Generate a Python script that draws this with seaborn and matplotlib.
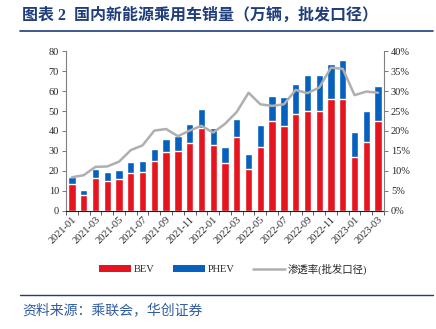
import numpy as np
import pandas as pd
import seaborn as sns
import matplotlib.pyplot as plt
from matplotlib.patches import Patch
from matplotlib.lines import Line2D

# Monthly NEV passenger car wholesale volumes (10k units) and penetration (%)
months = ["2021-01", "2021-02", "2021-03", "2021-04", "2021-05", "2021-06",
          "2021-07", "2021-08", "2021-09", "2021-10", "2021-11", "2021-12",
          "2022-01", "2022-02", "2022-03", "2022-04", "2022-05", "2022-06",
          "2022-07", "2022-08", "2022-09", "2022-10", "2022-11", "2022-12",
          "2023-01", "2023-02", "2023-03"]
bev = [13.6, 7.9, 16.6, 14.8, 16.1, 19.0, 19.5, 24.7, 29.6, 30.0, 34.1, 41.6,
       33.0, 24.1, 36.8, 21.0, 31.9, 44.9, 42.5, 48.7, 50.2, 50.2, 56.1, 56.1,
       26.8, 34.3, 45.0]
phev = [3.5, 2.7, 4.2, 4.4, 4.3, 5.2, 5.6, 6.3, 6.5, 7.6, 9.4, 9.4,
        8.7, 8.0, 9.3, 7.6, 10.9, 12.8, 14.4, 15.1, 17.9, 17.9, 17.4, 19.5,
        12.5, 15.9, 17.4]
penetration = [8.4, 8.9, 11.0, 11.1, 12.3, 15.2, 16.4, 20.1, 20.5, 18.7, 20.1, 21.3,
               19.6, 21.8, 24.8, 29.6, 26.7, 26.3, 26.7, 30.3, 29.5, 30.9, 35.9, 35.6,
               29.0, 29.9, 29.6]
left_ticks = [0, 10, 20, 30, 40, 50, 60, 70, 80]
right_ticks = [0, 5, 10, 15, 20, 25, 30, 35, 40]

RED = "#E5141E"
BLUE = "#0661BE"
GREY = "#AFAFAF"
NAVY = "#1F3D7A"

sns.set_theme(style="white")
plt.rcParams["font.family"] = ["Liberation Serif", "Noto Sans CJK SC"]
plt.rcParams["axes.unicode_minus"] = False

df = pd.DataFrame({"month": months, "BEV": bev, "PHEV": phev,
                   "pen": penetration})
df["total"] = df["BEV"] + df["PHEV"]
df["pos"] = np.arange(len(df))

fig = plt.figure(figsize=(4.36, 3.29), dpi=100)
ax = fig.add_axes([66 / 436, 1 - 210.7 / 329, (384 - 66) / 436, (210.7 - 51.3) / 329])

# Stacked bars: total (PHEV on top) then BEV over it
sns.barplot(data=df, x="month", y="total", color=BLUE, saturation=1,
            width=0.62, errorbar=None, ax=ax)
sns.barplot(data=df, x="month", y="BEV", color=RED, saturation=1,
            width=0.62, errorbar=None, ax=ax)

ax.set_xlim(-0.5, len(df) - 0.5)
ax.set_ylim(0, 80)
ax.set_yticks(left_ticks)
ax.set_yticklabels([str(v) for v in left_ticks], fontsize=7.5)
ax.set_xlabel("")
ax.set_ylabel("")
ax.set_xticks(df["pos"])
ax.set_xticklabels([m if i % 2 == 0 else "" for i, m in enumerate(months)],
                   rotation=45, ha="right", rotation_mode="anchor", fontsize=7.5)
ax.set_xticks(np.arange(-0.5, len(df)), minor=True)
ax.tick_params(axis="x", which="major", bottom=True, length=0, pad=3)
ax.tick_params(axis="x", which="minor", bottom=True, length=3, width=0.6,
               color="#404040")
ax.tick_params(axis="y", left=True, length=3, width=0.6, color="#606060", pad=2)
for s in ["top", "right"]:
    ax.spines[s].set_visible(False)
ax.spines["left"].set_color("#808080")
ax.spines["left"].set_linewidth(0.8)
ax.spines["bottom"].set_color("#202020")
ax.spines["bottom"].set_linewidth(0.8)

# Penetration line on the secondary axis
ax2 = ax.twinx()
sns.lineplot(data=df, x="pos", y="pen", color=GREY, linewidth=1.8, ax=ax2)
ax2.set_ylim(0, 40)
ax2.set_xlim(-0.5, len(df) - 0.5)
ax2.set_yticks(right_ticks)
ax2.set_yticklabels([f"{v}%" for v in right_ticks], fontsize=7.5)
ax2.set_ylabel("")
ax2.set_xlabel("")
ax2.tick_params(axis="y", right=True, length=3, width=0.6, color="#606060", pad=2)
for s in ["top", "left", "bottom"]:
    ax2.spines[s].set_visible(False)
ax2.spines["right"].set_color("#808080")
ax2.spines["right"].set_linewidth(0.8)

# Legend
handles = [Patch(facecolor=RED, edgecolor="none"),
           Patch(facecolor=BLUE, edgecolor="none"),
           Line2D([0], [0], color=GREY, linewidth=1.8)]
fig.legend(handles, ["BEV", "PHEV", "渗透率(批发口径)"], loc="center",
           bbox_to_anchor=(0.535, 1 - 269 / 329), ncol=3, frameon=False,
           fontsize=7.5, handlelength=3.0, handleheight=0.6,
           columnspacing=1.8, handletextpad=0.3)

# Header and footer
fig.text(22 / 436, 1 - 16 / 329, "图表 2  国内新能源乘用车销量（万辆，批发口径）",
         fontsize=11.5, fontweight="bold", color=NAVY, va="center", ha="left",
         family=["Liberation Serif", "Noto Sans CJK SC"])
fig.add_artist(Line2D([20 / 436, 433 / 436], [1 - 30.5 / 329] * 2,
                      transform=fig.transFigure, color=NAVY, linewidth=1.2))
fig.add_artist(Line2D([20 / 436, 433 / 436], [1 - 294.5 / 329] * 2,
                      transform=fig.transFigure, color=NAVY, linewidth=1.0))
fig.text(22 / 436, 1 - 310 / 329, "资料来源：乘联会，华创证券",
         fontsize=10, color="#2F5C9E", va="center", ha="left", style="italic",
         family=["Noto Sans CJK SC"])

fig.savefig("out.png", dpi=100)
